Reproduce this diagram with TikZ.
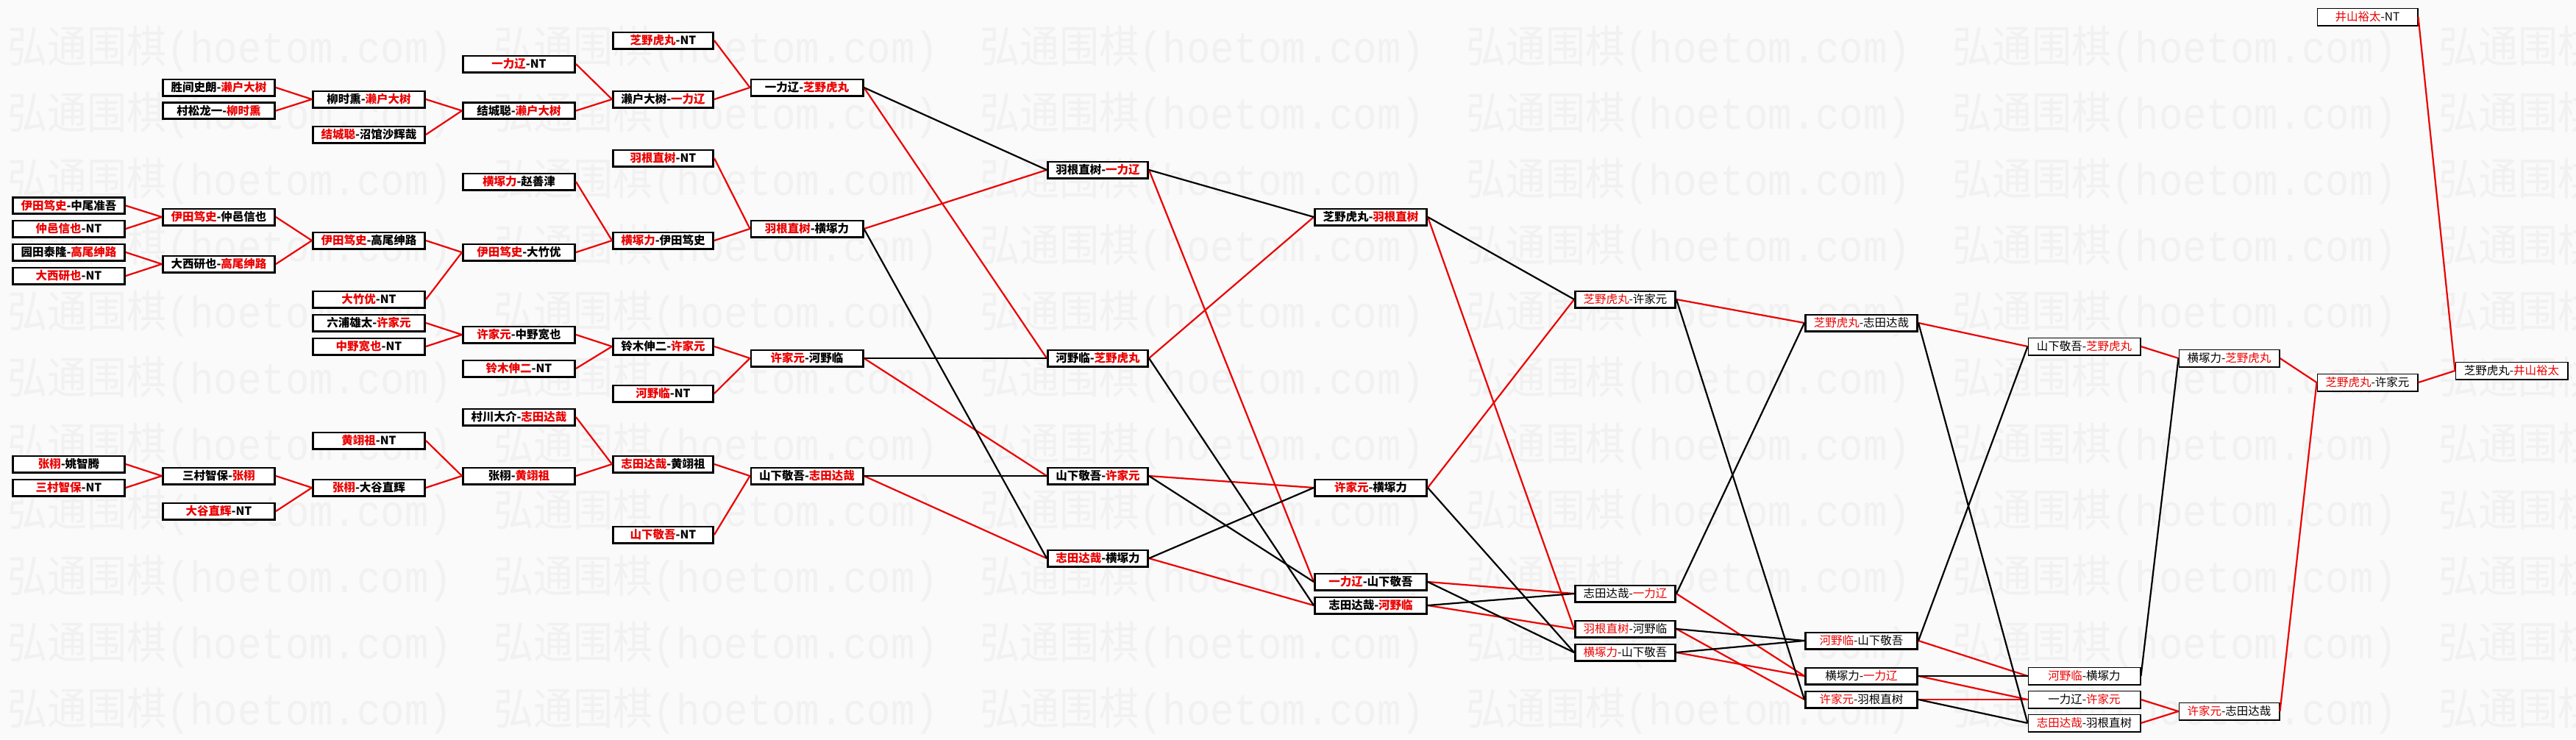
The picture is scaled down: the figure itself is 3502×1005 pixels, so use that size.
\documentclass[tikz,border=0pt]{standalone}
\usepackage{graphicx}
\usepackage{fontspec}
\setmainfont{Noto Sans CJK SC}
\newfontfamily\wmlatin{Liberation Mono}
\definecolor{winred}{RGB}{235,0,0}
\definecolor{wmgray}{RGB}{241,241,241}
\definecolor{paper}{RGB}{250,250,250}
\newcommand{\win}[1]{\textcolor{winred}{#1}}

\begin{document}
\begin{tikzpicture}[x=1pt,y=-1pt,
  game/.style={draw,fill=white,line width=2.8pt,inner sep=0pt,minimum height=22.2pt,
    font=\fontsize{15.5}{16}\selectfont\bfseries},
  wide/.style={game,minimum width=152.2pt},
  slim/.style={game,minimum width=136.2pt},
  plain/.style={font=\fontsize{15.5}{16}\selectfont},
  late/.style={plain,line width=1.8pt,minimum height=23.2pt},
  winline/.style={draw=winred,line width=2.2pt},
  loseline/.style={draw=black,line width=2.2pt},
  wmtext/.style={text=wmgray,anchor=west,inner sep=0pt,font=\fontsize{60}{64}\selectfont}]

  \useasboundingbox[fill=paper] (0,0) rectangle (3502,1005);

  % watermark
  \begin{scope}
    \clip (0,0) rectangle (3502,1005);
    \foreach \r in {0,...,10}
      \foreach \c in {0,...,5}
        \node[wmtext] (wm-\r-\c) at ({10+661*\c},{67+90*\r})
          {\scalebox{0.9}[1]{弘通围棋{\wmlatin(hoetom.com)}}};
  \end{scope}

  % round 1
  \node[wide] (c1a) at (93.5,279.5) {\win{伊田笃史}-中尾准吾};
  \node[wide] (c1b) at (93.5,311) {\win{仲邑信也}-NT};
  \node[wide] (c1c) at (93.5,343) {园田泰隆-\win{高尾绅路}};
  \node[wide] (c1d) at (93.5,375) {\win{大西研也}-NT};
  \node[wide] (c1e) at (93.5,631) {\win{张栩}-姚智腾};
  \node[wide] (c1f) at (93.5,663) {\win{三村智保}-NT};

  % round 2
  \node[wide] (c2a) at (297.5,119) {胜间史朗-\win{濑户大树}};
  \node[wide] (c2b) at (297.5,150.5) {村松龙一-\win{柳时熏}};
  \node[wide] (c2c) at (297.5,295) {\win{伊田笃史}-仲邑信也};
  \node[wide] (c2d) at (297.5,359) {大西研也-\win{高尾绅路}};
  \node[wide] (c2e) at (297.5,647) {三村智保-\win{张栩}};
  \node[wide] (c2f) at (297.5,695) {\win{大谷直辉}-NT};

  % round 3
  \node[wide] (c3a) at (501.5,135) {柳时熏-\win{濑户大树}};
  \node[wide] (c3b) at (501.5,183) {\win{结城聪}-沼馆沙辉哉};
  \node[wide] (c3c) at (501.5,327) {\win{伊田笃史}-高尾绅路};
  \node[wide] (c3d) at (501.5,407) {\win{大竹优}-NT};
  \node[wide] (c3e) at (501.5,439) {六浦雄太-\win{许家元}};
  \node[wide] (c3f) at (501.5,471) {\win{中野宽也}-NT};
  \node[wide] (c3g) at (501.5,599) {\win{黄翊祖}-NT};
  \node[wide] (c3h) at (501.5,663) {\win{张栩}-大谷直辉};

  % round 4
  \node[wide] (c4a) at (705.5,87) {\win{一力辽}-NT};
  \node[wide] (c4b) at (705.5,150.5) {结城聪-\win{濑户大树}};
  \node[wide] (c4c) at (705.5,247) {\win{横塚力}-赵善津};
  \node[wide] (c4d) at (705.5,343) {\win{伊田笃史}-大竹优};
  \node[wide] (c4e) at (705.5,455) {\win{许家元}-中野宽也};
  \node[wide] (c4f) at (705.5,501) {\win{铃木伸二}-NT};
  \node[wide] (c4g) at (705.5,567) {村川大介-\win{志田达哉}};
  \node[wide] (c4h) at (705.5,647) {张栩-\win{黄翊祖}};

  % round 5
  \node[slim] (c5a) at (901.5,55) {\win{芝野虎丸}-NT};
  \node[slim] (c5b) at (901.5,135) {濑户大树-\win{一力辽}};
  \node[slim] (c5c) at (901.5,215) {\win{羽根直树}-NT};
  \node[slim] (c5d) at (901.5,327) {\win{横塚力}-伊田笃史};
  \node[slim] (c5e) at (901.5,471) {铃木伸二-\win{许家元}};
  \node[slim] (c5f) at (901.5,535) {\win{河野临}-NT};
  \node[slim] (c5g) at (901.5,631) {\win{志田达哉}-黄翊祖};
  \node[slim] (c5h) at (901.5,727) {\win{山下敬吾}-NT};

  % round 6
  \node[wide] (c6a) at (1097,119) {一力辽-\win{芝野虎丸}};
  \node[wide] (c6b) at (1097,311) {\win{羽根直树}-横塚力};
  \node[wide] (c6c) at (1097,487) {\win{许家元}-河野临};
  \node[wide] (c6d) at (1097,647) {山下敬吾-\win{志田达哉}};

  % round 7
  \node[slim] (c7a) at (1492.5,231) {羽根直树-\win{一力辽}};
  \node[slim] (c7b) at (1492.5,487) {河野临-\win{芝野虎丸}};
  \node[slim] (c7c) at (1492.5,647) {山下敬吾-\win{许家元}};
  \node[slim] (c7d) at (1492.5,759) {\win{志田达哉}-横塚力};

  % round 8
  \node[wide] (c8a) at (1863.5,295) {芝野虎丸-\win{羽根直树}};
  \node[wide] (c8b) at (1863.5,663) {\win{许家元}-横塚力};
  \node[wide] (c8c) at (1863.5,791) {\win{一力辽}-山下敬吾};
  \node[wide] (c8d) at (1863.5,823) {志田达哉-\win{河野临}};

  % round 9
  \node[slim,plain] (c9a) at (2209.5,407) {\win{芝野虎丸}-许家元};
  \node[slim,plain] (c9b) at (2209.5,807) {志田达哉-\win{一力辽}};
  \node[slim,plain] (c9c) at (2209.5,855) {\win{羽根直树}-河野临};
  \node[slim,plain] (c9d) at (2209.5,887) {\win{横塚力}-山下敬吾};

  % round 10
  \node[wide,plain] (c10a) at (2530.5,439) {\win{芝野虎丸}-志田达哉};
  \node[wide,plain] (c10b) at (2530.5,871) {\win{河野临}-山下敬吾};
  \node[wide,plain] (c10c) at (2530.5,919) {横塚力-\win{一力辽}};
  \node[wide,plain] (c10d) at (2530.5,951) {\win{许家元}-羽根直树};

  % round 11
  \node[wide,late] (c11a) at (2833.5,471) {山下敬吾-\win{芝野虎丸}};
  \node[wide,late] (c11b) at (2833.5,919) {\win{河野临}-横塚力};
  \node[wide,late] (c11c) at (2833.5,951) {一力辽-\win{许家元}};
  \node[wide,late] (c11d) at (2833.5,983) {\win{志田达哉}-羽根直树};

  % round 12
  \node[slim,late] (c12a) at (3030.5,487) {横塚力-\win{芝野虎丸}};
  \node[slim,late] (c12b) at (3030.5,967) {\win{许家元}-志田达哉};

  % round 13
  \node[slim,late] (c13a) at (3218.5,23) {\win{井山裕太}-NT};
  \node[slim,late] (c13b) at (3218.5,520) {\win{芝野虎丸}-许家元};

  % final
  \node[wide,late] (c14a) at (3414.5,504) {芝野虎丸-\win{井山裕太}};

  % winners go on
  \foreach \a/\b in {c1a/c2c,c1b/c2c,c1c/c2d,c1d/c2d,c1e/c2e,c1f/c2e,
      c2a/c3a,c2b/c3a,c2c/c3c,c2d/c3c,c2e/c3h,c2f/c3h,
      c3a/c4b,c3b/c4b,c3c/c4d,c3d/c4d,c3e/c4e,c3f/c4e,c3g/c4h,c3h/c4h,
      c4a/c5b,c4b/c5b,c4c/c5d,c4d/c5d,c4e/c5e,c4f/c5e,c4g/c5g,c4h/c5g,
      c5a/c6a,c5b/c6a,c5c/c6b,c5d/c6b,c5e/c6c,c5f/c6c,c5g/c6d,c5h/c6d,
      c6b/c7a,c6a/c7b,c6c/c7c,c6d/c7d,
      c7b/c8a,c7c/c8b,c7a/c8c,c7d/c8d,
      c8b/c9a,c8c/c9b,c8a/c9c,c8d/c9c,
      c9a/c10a,c9b/c10c,c9d/c10c,c9c/c10d,
      c10a/c11a,c10b/c11b,c10c/c11c,c10d/c11c,
      c11a/c12a,c11c/c12b,c11d/c12b,
      c12a/c13b,c12b/c13b,c13b/c14a,c13a/c14a}
    \draw[winline] (\a.east) to (\b.west);

  % losers go on
  \foreach \a/\b in {c6a/c7a,c6c/c7b,c6d/c7c,c6b/c7d,
      c7a/c8a,c7d/c8b,c7c/c8c,c7b/c8d,
      c8a/c9a,c8d/c9b,c8b/c9d,c8c/c9d,
      c9b/c10a,c9c/c10b,c9d/c10b,c9a/c10d,
      c10b/c11a,c10c/c11b,c10a/c11d,c10d/c11d,
      c11b/c12a}
    \draw[loseline] (\a.east) to (\b.west);

\end{tikzpicture}
\end{document}
